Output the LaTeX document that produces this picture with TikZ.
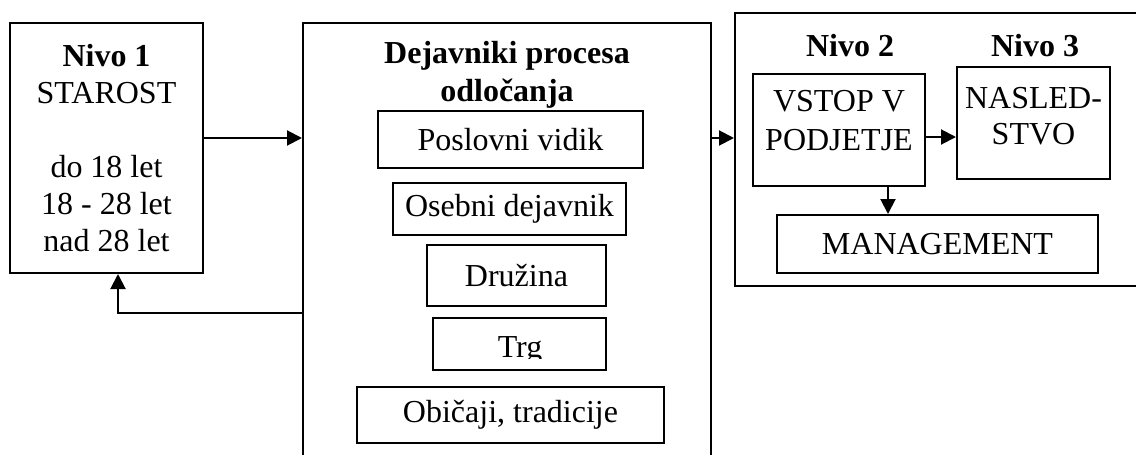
\documentclass[tikz,border=0pt]{standalone}
\usepackage{fontspec}
\setmainfont{Liberation Serif}
\usetikzlibrary{arrows.meta,calc}

\begin{document}
\begin{tikzpicture}[x=0.5pt,y=-0.5pt,>={Triangle[length=7.5pt,width=7.5pt]},
    frame/.style={draw,line width=1pt,align=center,inner sep=0pt,
      font=\fontsize{16}{18.5}\selectfont},
    head/.style={align=center,font=\fontsize{16}{19}\selectfont\bfseries},
    arr/.style={->,line width=1pt}]
  \useasboundingbox (0,0) rectangle (1136,455);
  % level 1
  \node[frame,minimum width=96.5pt,minimum height=125pt] (age) at (106.5,148)
    {\textbf{Nivo 1}\\STAROST\\[18.5pt]do 18 let\\18 - 28 let\\nad 28 let};
  % decision factors (runs off the bottom)
  \node[frame,minimum width=204pt,minimum height=228.5pt] (factors) at (507,251.5) {};
  \node[head] (factorstitle) at (507,75) {Dejavniki procesa\\odločanja};
  \node[frame,minimum width=132.5pt,minimum height=28.5pt] (business) at (510.5,139.5) {Poslovni vidik};
  \node[frame,minimum width=116.5pt,minimum height=26pt] (personal) at (509.5,209) {Osebni dejavnik};
  \node[frame,minimum width=89.5pt,minimum height=30.5pt] (family) at (516.5,275.5) {Družina};
  \node[frame,minimum width=86.5pt,minimum height=26pt] (market) at (519.5,344) {};
  \begin{scope}
    \clip (433,318) rectangle (606,358);
    \node[font=\fontsize{16}{18.5}\selectfont,anchor=base] (markettxt) at (520,357) {Trg};
  \end{scope}
  \node[frame,minimum width=153.5pt,minimum height=28pt] (customs) at (510.5,415) {Običaji, tradicije};
  % levels 2 and 3
  \node[frame,minimum width=205pt,minimum height=136.5pt] (levels) at (940,149.5) {};
  \node[head] (lvltwo) at (850,46) {Nivo 2};
  \node[head] (lvlthree) at (1035,46) {Nivo 3};
  \node[frame,minimum width=86pt,minimum height=56pt] (entry) at (839,130) {};
  \node[align=center,font=\fontsize{16}{19.5}\selectfont] (entrytxt) at (839,121) {VSTOP V\\PODJETJE};
  \node[frame,minimum width=76.5pt,minimum height=56pt] (succession) at (1033.5,123) {};
  \node[align=center,font=\fontsize{16}{18}\selectfont] (successiontxt) at (1033.5,116) {NASLED-\\STVO};
  \node[frame,minimum width=160.5pt,minimum height=29pt] (mgmt) at (937.5,244) {MANAGEMENT};
  % connectors
  \draw[arr] ([yshift=5pt]age.east) -- ([yshift=5pt]age.east -| factors.west);
  \draw[arr] ([yshift=-30.75pt]factors.west) -| ([xshift=5.75pt]age.south);
  \draw[arr] ([yshift=56.75pt]factors.east) -- ([yshift=56.75pt]factors.east -| levels.west);
  \draw[arr] ([yshift=-3.5pt]entry.east) -- ([yshift=-3.5pt]entry.east -| succession.west);
  \draw[arr] ([xshift=24.5pt]entry.south) -- ([xshift=24.5pt]entry.south |- mgmt.north);
\end{tikzpicture}
\end{document}
